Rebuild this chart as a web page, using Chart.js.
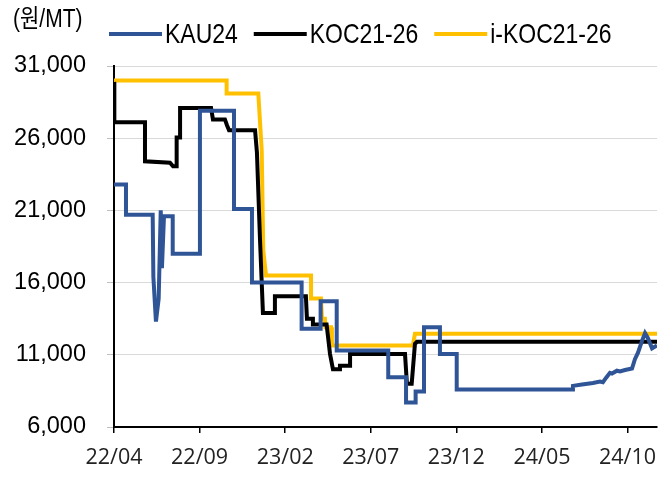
<!DOCTYPE html>
<html>
<head>
<meta charset="utf-8">
<script src="https://cdn.jsdelivr.net/npm/chart.js@4.4.1/dist/chart.umd.min.js"></script>
<style>
    body { margin: 0; background: #fff; }
    canvas { display: block; }
</style>
</head>
<body>
<canvas id="priceChart" width="672" height="477"></canvas>
<script>
const seriesNames = ["KAU24", "KOC21-26", "i-KOC21-26"];
const seriesColors = ["#2f5597", "#000000", "#ffc000"];
const unitLabel = "(원/MT)";

// x = months since 2022/04
const kauMonth = [0, 0.70, 0.70, 2.26, 2.30, 2.45, 2.61, 2.73, 2.80, 2.92, 3.43, 3.43, 5.02, 5.02, 7.01, 7.01, 8.06, 8.06, 10.96, 10.96, 12.07, 12.07, 13.01, 13.01, 16.02, 16.02, 17.06, 17.06, 17.62, 17.62, 18.11, 18.11, 19.04, 19.04, 20.02, 20.02, 26.81, 26.81, 27.34, 27.98, 28.39, 28.56, 28.74, 28.97, 29.09, 29.38, 29.56, 29.85, 30.26, 30.43, 30.61, 30.84, 31.02, 31.19, 31.43, 31.72];
const kauPrice = [22800, 22800, 20700, 20700, 16400, 13300, 14900, 21000, 17000, 20600, 20600, 18000, 18000, 27900, 27900, 21100, 21100, 16000, 16000, 12800, 12800, 14700, 14700, 11300, 11300, 9450, 9450, 7700, 7700, 8450, 8450, 12900, 12900, 11050, 11050, 8600, 8600, 8850, 8950, 9050, 9150, 9100, 9400, 9750, 9700, 9900, 9850, 9950, 10050, 10700, 11150, 11950, 12500, 12150, 11450, 11650];

const kocMonth = [0, 0.02, 1.81, 1.81, 3.27, 3.45, 3.66, 3.66, 3.86, 3.86, 5.67, 5.78, 6.48, 6.60, 6.72, 8.24, 8.35, 8.53, 8.70, 9.40, 9.40, 11.21, 11.27, 11.62, 11.62, 12.42, 12.62, 12.79, 13.20, 13.20, 13.79, 13.79, 17.00, 17.11, 17.39, 17.58, 17.70, 31.72];
const kocPrice = [29900, 27100, 27100, 24400, 24300, 24050, 24050, 26050, 26050, 28100, 28100, 27300, 27300, 26900, 26550, 26550, 25000, 18950, 13900, 13900, 15050, 15050, 13500, 13500, 13100, 13100, 11050, 10000, 10000, 10250, 10250, 11050, 11050, 9000, 9000, 11750, 11900, 11900];

const ikocMonth = [0, 6.58, 6.58, 8.43, 8.63, 8.72, 8.88, 11.51, 11.51, 12.09, 12.15, 12.32, 12.35, 12.68, 12.73, 17.46, 17.58, 31.72];
const ikocPrice = [30000, 30000, 29100, 29100, 25150, 18250, 16500, 16500, 14900, 14900, 13500, 13500, 12900, 12900, 11650, 11650, 12450, 12450];

const startYear = 22;
const startMonth = 4;

function toPoints(months, prices) {
    return months.map((m, i) => ({ x: m, y: prices[i] }));
}

function monthLabel(value) {
    const total = startMonth - 1 + value;
    const yy = startYear + Math.floor(total / 12);
    const mm = (total % 12) + 1;
    return yy + "/" + String(mm).padStart(2, "0");
}

// narrow text: squeeze a normal font sideways
function narrowText(c, text, x, y, squeeze) {
    c.save();
    c.translate(x, y);
    c.scale(squeeze, 1);
    c.fillText(text, 0, 0);
    c.restore();
    return c.measureText(text).width * squeeze;
}

const legendPlugin = {
    id: "topLegend",
    afterDraw(chart) {
        const c = chart.ctx;
        c.save();
        c.textBaseline = "middle";
        c.fillStyle = "#000";
        c.font = '25px "Liberation Sans", "Noto Sans CJK KR"';
        narrowText(c, unitLabel, 13, 20, 0.84);
        c.font = '28px "Liberation Sans"';
        let x = 109;
        chart.data.datasets.forEach((ds) => {
            c.strokeStyle = ds.borderColor;
            c.lineWidth = 4;
            c.beginPath();
            c.moveTo(x, 34);
            c.lineTo(x + 53, 34);
            c.stroke();
            x += 56;
            x += narrowText(c, ds.label, x, 35, 0.82) + 16;
        });
        c.restore();
    },
};

const allMonths = [kauMonth, kocMonth, ikocMonth];
const allPrices = [kauPrice, kocPrice, ikocPrice];

new Chart(document.getElementById("priceChart"), {
    type: "line",
    data: {
        datasets: seriesNames.map((name, i) => ({
            label: name,
            data: toPoints(allMonths[i], allPrices[i]),
            borderColor: seriesColors[i],
            backgroundColor: seriesColors[i],
            borderWidth: 4,
            pointRadius: 0,
            tension: 0,
        })),
    },
    options: {
        responsive: false,
        animation: false,
        layout: { padding: { top: 66, right: 15, left: 0, bottom: 0 } },
        plugins: {
            legend: { display: false },
            tooltip: { enabled: false },
        },
        scales: {
            x: {
                type: "linear",
                min: 0,
                max: 31.72,
                afterFit: (s) => { s.height = 50; },
                border: { color: "#000", width: 2 },
                grid: { drawOnChartArea: false, tickLength: 6, tickColor: "#000", lineWidth: 1.5 },
                ticks: {
                    stepSize: 5,
                    includeBounds: false,
                    maxRotation: 0,
                    padding: 12,
                    color: "#222",
                    font: { family: '"Open Sans"', size: 21.5 },
                    callback: (v) => monthLabel(v),
                },
            },
            y: {
                min: 6000,
                max: 31000,
                afterFit: (s) => { s.width = 114; },
                border: { color: "#000", width: 2 },
                grid: { color: "#d9d9d9", lineWidth: 1, tickLength: 7, tickColor: "#bfbfbf" },
                ticks: {
                    stepSize: 5000,
                    padding: 21,
                    color: "#000",
                    font: { family: '"Liberation Sans"', size: 23.5 },
                    callback: (v) => v.toLocaleString("en-US"),
                },
            },
        },
    },
    plugins: [legendPlugin],
});
</script>
</body>
</html>
